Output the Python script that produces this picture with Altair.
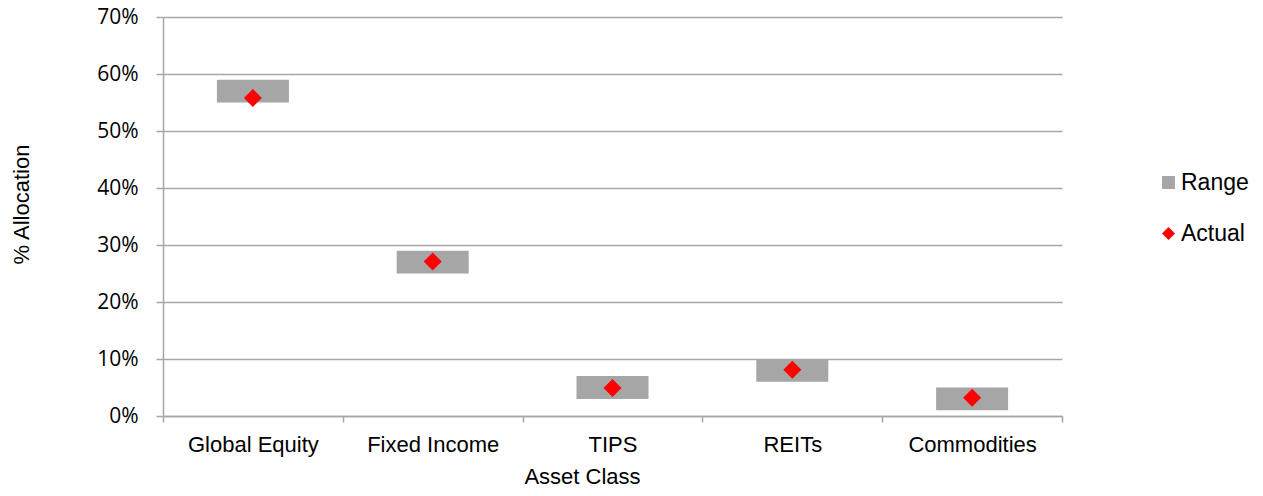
import altair as alt
import pandas as pd

categories = ["Global Equity", "Fixed Income", "TIPS", "REITs", "Commodities"]
range_low = [0.55, 0.25, 0.03, 0.06, 0.01]
range_high = [0.59, 0.29, 0.07, 0.10, 0.05]
actual = [0.558, 0.271, 0.049, 0.081, 0.032]
series_names = ["Range", "Actual"]
series_colors = ["#a6a6a6", "#ff0000"]
series_shapes = ["square", "diamond"]
y_ticks = [0, 0.1, 0.2, 0.3, 0.4, 0.5, 0.6, 0.7]

bars_df = pd.DataFrame({"category": categories, "low": range_low, "high": range_high, "series": "Range"})
pts_df = pd.DataFrame({"category": categories, "actual": actual, "series": "Actual"})

GRAY = "#a6a6a6"
ARIAL = "Liberation Sans"

x_enc = alt.X(
    "category:N",
    sort=categories,
    scale=alt.Scale(paddingInner=0, paddingOuter=0),
    axis=alt.Axis(
        title="Asset Class",
        labelAngle=0,
        tickBand="extent",
        grid=False,
        labelFont=ARIAL,
        labelFontSize=22,
        labelColor="black",
        labelPadding=12,
        tickSize=6,
        tickColor=GRAY,
        tickWidth=1.5,
        domainColor=GRAY,
        domainWidth=1.5,
        titleFont=ARIAL,
        titleFontSize=22,
        titleFontWeight="normal",
        titleColor="black",
        titleX=419,
        titleY=67,
        titleAlign="center",
        titleBaseline="alphabetic",
    ),
)

y_scale = alt.Scale(domain=[0, 0.7], nice=False)
y_axis = alt.Axis(
    title="% Allocation",
    values=y_ticks,
    format=".0%",
    labelFont="Open Sans",
    labelFontSize=21,
    labelColor="black",
    labelPadding=18,
    tickSize=7,
    tickColor=GRAY,
    tickWidth=1.5,
    domainColor=GRAY,
    domainWidth=1.5,
    grid=True,
    gridColor=GRAY,
    gridWidth=1.5,
    titleFont=ARIAL,
    titleFontSize=22,
    titleFontWeight="normal",
    titleColor="black",
    titleAngle=270,
    titleX=-142,
    titleY=187,
    titleAlign="center",
    titleBaseline="middle",
)

legend = alt.Legend(
    title=None,
    orient="none",
    legendX=994,
    legendY=154,
    labelFont=ARIAL,
    labelFontSize=23,
    labelColor="black",
    symbolSize=170,
    symbolStrokeWidth=0,
    rowPadding=27,
    labelOffset=1,
    padding=0,
)

color_enc = alt.Color(
    "series:N",
    scale=alt.Scale(domain=series_names, range=series_colors),
    legend=legend,
)
shape_enc = alt.Shape(
    "series:N",
    scale=alt.Scale(domain=series_names, range=series_shapes),
    legend=legend,
)

bars = alt.Chart(bars_df).mark_bar(size=72).encode(
    x=x_enc,
    y=alt.Y("low:Q", scale=y_scale, axis=y_axis),
    y2="high:Q",
    color=color_enc,
)

points = alt.Chart(pts_df).mark_point(filled=True, size=324, opacity=1).encode(
    x=x_enc,
    y=alt.Y("actual:Q", scale=y_scale, axis=y_axis),
    color=color_enc,
    shape=shape_enc,
)

chart = (
    alt.layer(bars, points)
    .properties(
        width=899,
        height=399,
        autosize=alt.AutoSizeParams(type="none"),
        padding={"left": 155, "top": 9, "right": 191, "bottom": 68},
        background="white",
    )
    .configure_view(stroke=None)
)

chart.save("out.html", embed_options={"renderer": "svg", "actions": False})
